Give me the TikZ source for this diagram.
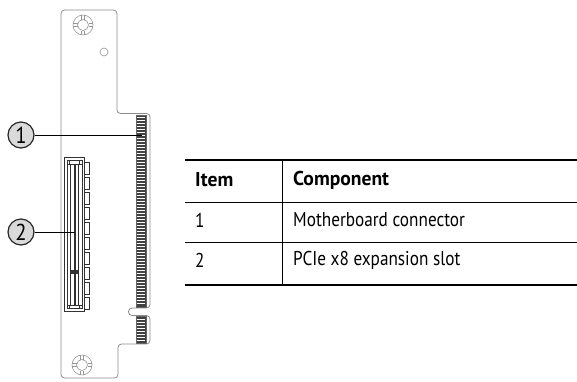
\documentclass[tikz,border=0pt]{standalone}
\usepackage{fontspec}
\setmainfont{PT Sans}[FakeStretch=0.86, BoldFeatures={FakeStretch=0.98}]
\newfontfamily\calloutfont{PT Sans}[FakeStretch=0.9]
\begin{document}
\begin{tikzpicture}[x=1pt,y=-1pt,
  board/.style={draw={rgb,255:red,140;green,140;blue,140}, line width=0.8pt},
  slotline/.style={draw={rgb,255:red,50;green,50;blue,50}, line width=0.8pt},
  hole/.style={draw={rgb,255:red,150;green,150;blue,150}, line width=0.6pt},
  callout/.style={circle, draw=black!85, line width=1.2pt, fill={rgb,255:red,218;green,218;blue,218}, minimum size=26pt, inner sep=0pt, font=\calloutfont\fontsize{23}{23}\selectfont},
  leader/.style={draw=black, line width=1pt},
  cell/.style={anchor=west, inner sep=0pt, font=\fontsize{20}{20}\selectfont},
  head/.style={cell, font=\fontsize{20}{20}\selectfont\bfseries},
  thickrule/.style={draw=black, line width=2.4pt},
  thinrule/.style={draw=black, line width=1pt}]
\useasboundingbox (0,0) rectangle (577,381);

% board outline
\draw[board, rounded corners=3.5] (61,378) -- (61,10) -- (117,10) -- (117,113.5) -- (150,113.5)
  -- (150,308) -- (128.5,308) -- (128.5,315.5) -- (150,315.5) -- (150,344) -- (118,344) -- (118,378) -- cycle;

% mounting holes
\foreach \cx/\cy in {83/25, 82/365} {
  \draw[hole] (\cx,\cy) circle (10);
  \draw[hole] (\cx,\cy) circle (5.5);
  \foreach \a in {0,90,180,270} {
    \draw[hole, rotate around={\a:(\cx,\cy)}] (\cx+5.5,\cy-1.6) -- (\cx+10,\cy-1.6) (\cx+5.5,\cy+1.6) -- (\cx+10,\cy+1.6);
  }
}
\draw[hole] (104,52) circle (4);

% edge connector (gold fingers)
\fill[black!75] (136,115) rectangle (146,307.5);
\fill[black!75] (136,316.5) rectangle (146,343);
\foreach \y in {117.5,120.5,...,306} {\draw[white, line width=0.9pt] (136.6,\y) -- (145.4,\y);}
\foreach \y in {319,322,...,342} {\draw[white, line width=0.9pt] (136.6,\y) -- (145.4,\y);}
\draw[black!60, line width=0.5pt] (136,115) rectangle (146,307.5) (136,316.5) rectangle (146,343);
\coordinate (fingers) at (142,135);

% PCIe slot
\draw[slotline] (64,157.5) rectangle (84.5,311);
\draw[slotline] (67,160) rectangle (82,308.5);
\draw[slotline] (67,160) rectangle (69.5,164) (79.5,160) rectangle (82,164);
\draw[slotline] (67,305) rectangle (69.5,308.5) (79.5,305) rectangle (82,308.5);
\draw[slotline] (70.5,164) rectangle (74,270.5) (75.3,164) rectangle (78.7,270.5);
\draw[slotline] (70.5,273.5) rectangle (74,305) (75.3,273.5) rectangle (78.7,305);
\draw[slotline, line width=1.6pt] (70,272) -- (79,272);
\foreach \i in {0,...,9} {
  \draw[slotline] (84.5,162+15*\i) rectangle (89.5,174+15*\i);
}
\coordinate (slot) at (75,232);

% callouts
\node[callout] (c1) at (21,135) {1};
\node[callout] (c2) at (21,232) {2};
\draw[leader] (c1.east) -- (fingers);
\draw[leader] (c2.east) -- (slot);

% table
\draw[thickrule] (185,160) -- (577,160);
\draw[thinrule] (185,202) -- (577,202);
\draw[thinrule] (185,242) -- (577,242);
\draw[thickrule] (185,285) -- (577,285);
\draw[thinrule] (282,160) -- (282,285);
\node[head] (h1) at (195,180) {Item};
\node[head] (h2) at (293,180) {Component};
\node[cell] (r1a) at (195,220) {1};
\node[cell] (r1b) at (293,220) {Motherboard connector};
\node[cell] (r2a) at (195,260) {2};
\node[cell] (r2b) at (293,260) {PCIe x8 expansion slot};
\end{tikzpicture}
\end{document}
